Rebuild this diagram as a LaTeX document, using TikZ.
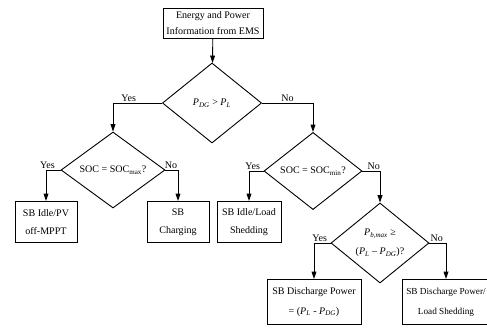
\documentclass[tikz,border=0pt]{standalone}
\usepackage{fontspec}
\setmainfont{Liberation Serif}
\usetikzlibrary{arrows.meta,shapes.geometric}
\newcommand{\pw}[1]{\textit{P}\textsubscript{\textit{#1}}}

\begin{document}
\begin{tikzpicture}[x=0.035cm, y=-0.035cm, >={Triangle[length=2.6mm,width=1.7mm]},
  box/.style={rectangle, draw, align=center, inner sep=1pt, line width=0.9pt, font=\fontsize{10}{16}\selectfont},
  test/.style={diamond, draw, align=center, inner sep=0pt, line width=0.9pt, font=\fontsize{10}{16}\selectfont},
  edge/.style={->, line width=0.9pt},
  lbl/.style={above, inner sep=1pt, font=\fontsize{10}{12}\selectfont}
]
\clip (0,0) rectangle (487,327);
\node[box, minimum width=3.5cm, minimum height=1.05cm] (ems) at (213,23) {Energy and Power\\Information from EMS};
\node[test, minimum width=3.47cm, minimum height=2.8cm] (d1) at (212,103) {\pw{DG} > \pw{L}};
\node[test, minimum width=3.64cm, minimum height=2.66cm] (d2) at (113,170) {SOC = SOC\textsubscript{max}?};
\node[test, minimum width=3.43cm, minimum height=2.7cm] (d3) at (313,171) {SOC = SOC\textsubscript{min}?};
\node[test, minimum width=3.43cm, minimum height=2.8cm, font=\fontsize{10}{19}\selectfont] (d4) at (380,243) {\pw{b,max} ≥\\(\pw{L} -- \pw{DG})?};
\node[box, minimum width=2.17cm, minimum height=1.44cm, font=\fontsize{10}{18}\selectfont] (b1) at (46,222) {SB Idle/PV\\off-MPPT};
\node[box, minimum width=2.17cm, minimum height=1.44cm, font=\fontsize{10}{18}\selectfont] (b2) at (178,222) {SB\\Charging};
\node[box, minimum width=2.24cm, minimum height=1.44cm, font=\fontsize{10}{18}\selectfont] (b3) at (249,222) {SB Idle/Load\\Shedding};
\node[box, minimum width=3.29cm, minimum height=1.58cm, font=\fontsize{10}{20}\selectfont] (b4) at (314,302) {SB Discharge Power\\= (\pw{L} - \pw{DG})};
\node[box, minimum width=3.08cm, minimum height=1.58cm, font=\fontsize{9.2}{20}\selectfont] (b5) at (446,302) {SB Discharge Power/\\Load Shedding};
\draw[edge] (ems) -- (d1);
\draw[edge] (d1.west) -| (d2.north) node[lbl, pos=0.34] {Yes};
\draw[edge] (d1.east) -| (d3.north) node[lbl, pos=0.25] {No};
\draw[edge] (d2.west) -| (b1.north) node[lbl, pos=0.45] {Yes};
\draw[edge] (d2.east) -| (b2.north) node[lbl, pos=0.22] {No};
\draw[edge] (d3.west) -| (b3.north) node[lbl, pos=0.37] {Yes};
\draw[edge] (d3.east) -| (d4.north) node[lbl, pos=0.32] {No};
\draw[edge] (d4.west) -| (b4.north) node[lbl, pos=0.33] {Yes};
\draw[edge] (d4.east) -| (b5.north) node[lbl, pos=0.22] {No};
\end{tikzpicture}
\end{document}
